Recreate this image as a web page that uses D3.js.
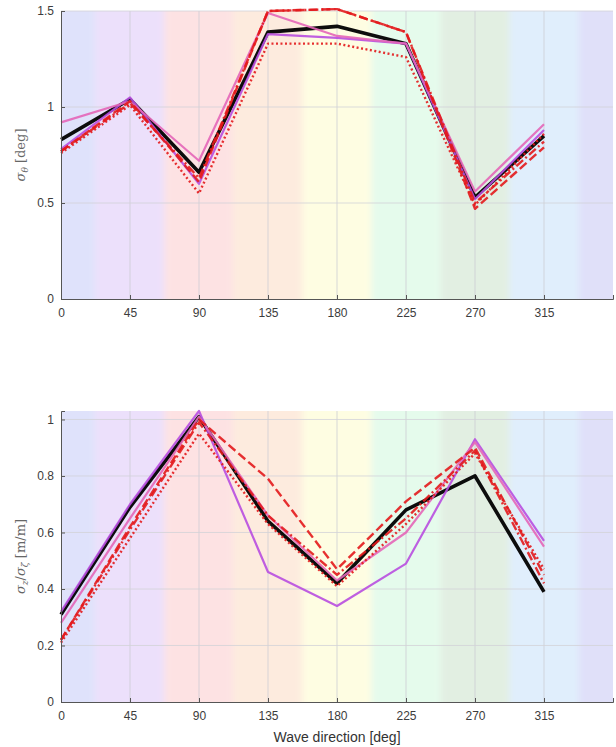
<!DOCTYPE html>
<html>
<head>
<meta charset="utf-8">
<script src="https://d3js.org/d3.v7.min.js"></script>
<style>
  body { margin: 0; background: #fff; }
  svg { display: block; }
</style>
</head>
<body>
<div id="chart"></div>
<script>
// wave directions [deg]
const directions = [0, 45, 90, 135, 180, 225, 270, 315];
const xTicks = [0, 45, 90, 135, 180, 225, 270, 315];

// sector shading (centred on each direction)
const sectorEdges = [0, 22.5, 67.5, 112.5, 157.5, 202.5, 247.5, 292.5, 337.5, 360];
const sectorColors = ["#dfe2fb", "#ece0fb", "#fde2e3", "#fdebde", "#fefde2",
                      "#e5fbec", "#e2efe2", "#e0eefc", "#e0e0f9"];

// sigma_theta [deg]
const thetaBlack   = [0.83, 1.04, 0.66, 1.39, 1.42, 1.33, 0.53, 0.85];
const thetaPurple  = [0.78, 1.05, 0.60, 1.38, 1.36, 1.33, 0.52, 0.88];
const thetaPink    = [0.92, 1.03, 0.72, 1.49, 1.37, 1.33, 0.56, 0.91];
const thetaDashed  = [0.77, 1.03, 0.61, 1.50, 1.51, 1.39, 0.47, 0.79];
const thetaDashDot = [0.77, 1.02, 0.63, 1.50, 1.51, 1.39, 0.50, 0.82];
const thetaDotted  = [0.76, 1.01, 0.55, 1.33, 1.33, 1.26, 0.49, 0.86];
const thetaTicks = [0, 0.5, 1, 1.5];

// sigma_z / sigma_zeta [m/m]
const heaveBlack   = [0.31, 0.69, 1.01, 0.64, 0.42, 0.68, 0.80, 0.39];
const heavePurple  = [0.32, 0.70, 1.03, 0.46, 0.34, 0.49, 0.93, 0.57];
const heavePink    = [0.28, 0.65, 1.01, 0.66, 0.43, 0.60, 0.92, 0.55];
const heaveDashed  = [0.22, 0.62, 1.00, 0.79, 0.47, 0.71, 0.90, 0.45];
const heaveDashDot = [0.22, 0.61, 0.99, 0.66, 0.45, 0.65, 0.89, 0.42];
const heaveDotted  = [0.21, 0.58, 0.95, 0.63, 0.41, 0.63, 0.88, 0.47];
const heaveTicks = [0, 0.2, 0.4, 0.6, 0.8, 1];

const styles = [
  {color: "#000000", width: 3.6, dash: null},
  {color: "#b84ee0", width: 2.2, dash: null},
  {color: "#e466b8", width: 2.2, dash: null},
  {color: "#e3191c", width: 2.4, dash: "9,4"},
  {color: "#e3191c", width: 2.4, dash: "9,3,2,3"},
  {color: "#e3191c", width: 2.4, dash: "2,2.5"}
];

const W = 616, H = 747;
const svg = d3.select("#chart").append("svg")
  .attr("width", W).attr("height", H);
const defs = svg.append("defs");
defs.append("filter").attr("id", "soft")
  .attr("x", "-5%").attr("y", "-5%").attr("width", "110%").attr("height", "110%")
  .append("feGaussianBlur").attr("stdDeviation", "3 0");

let panelId = 0;
function panel(opts) {
  const id = panelId++;
  const x = d3.scaleLinear().domain([0, 360]).range([61, 613]);
  const y = d3.scaleLinear().domain(opts.yDomain).range([opts.bottom, opts.top]);
  const g = svg.append("g");

  defs.append("clipPath").attr("id", "clip" + id)
    .append("rect")
    .attr("x", x(0)).attr("y", opts.top)
    .attr("width", x(360) - x(0)).attr("height", opts.bottom - opts.top);

  // sector shading, soft edges
  g.append("g")
    .attr("clip-path", `url(#clip${id})`)
    .append("g")
    .attr("filter", "url(#soft)")
    .selectAll("rect")
    .data(sectorColors)
    .join("rect")
    .attr("x", (d, i) => x(sectorEdges[i]) - (i === 0 ? 10 : 0))
    .attr("width", (d, i) => x(sectorEdges[i + 1]) - x(sectorEdges[i]) + (i === 0 || i === sectorColors.length - 1 ? 10 : 0))
    .attr("y", opts.top)
    .attr("height", opts.bottom - opts.top)
    .attr("fill", d => d);

  // grid
  g.selectAll("line.vgrid")
    .data(xTicks.slice(1))
    .join("line")
    .attr("x1", d => x(d)).attr("x2", d => x(d))
    .attr("y1", opts.top).attr("y2", opts.bottom)
    .attr("stroke", "#cdcdd4").attr("stroke-width", 0.8);
  g.selectAll("line.hgrid")
    .data(opts.yTicks.slice(1))
    .join("line")
    .attr("x1", x(0)).attr("x2", x(360))
    .attr("y1", d => y(d)).attr("y2", d => y(d))
    .attr("stroke", "#d2d2d8").attr("stroke-width", 0.8);

  // series
  const line = d3.line()
    .x((d, i) => x(directions[i]))
    .y(d => y(d));
  opts.series.forEach((s, k) => {
    const st = styles[k];
    g.append("path")
      .datum(s)
      .attr("fill", "none")
      .attr("stroke", st.color)
      .attr("stroke-width", st.width)
      .attr("stroke-linejoin", "round")
      .attr("stroke-dasharray", st.dash)
      .attr("opacity", k === 0 ? 0.95 : 0.9)
      .attr("d", line);
  });

  // axes
  const xAxis = g.append("g")
    .attr("transform", `translate(0,${opts.bottom})`)
    .call(d3.axisBottom(x).tickValues(xTicks).tickSize(-4).tickPadding(9).tickFormat(d3.format("d")));
  const yAxis = g.append("g")
    .attr("transform", `translate(${x(0)},0)`)
    .call(d3.axisLeft(y).tickValues(opts.yTicks).tickSize(-4).tickPadding(7).tickFormat(d => String(d)));
  [xAxis, yAxis].forEach(a => {
    a.select(".domain").attr("stroke", "#555").attr("stroke-width", 1);
    a.selectAll(".tick line").attr("stroke", "#555");
    a.selectAll("text")
      .attr("fill", "#3c3c3c")
      .style("font-family", "Liberation Sans, Arial, sans-serif")
      .style("font-size", "12px");
  });

  // y label (serif, latex-like)
  const lab = g.append("text")
    .attr("transform", `translate(25,${(opts.top + opts.bottom) / 2}) rotate(-90)`)
    .attr("text-anchor", "middle")
    .attr("fill", "#666")
    .style("font-family", "DejaVu Serif, Liberation Serif, serif")
    .style("font-size", "13px");
  opts.label(lab);
}

panel({
  top: 11, bottom: 299, yDomain: [0, 1.5], yTicks: thetaTicks,
  series: [thetaBlack, thetaPurple, thetaPink, thetaDashed, thetaDashDot, thetaDotted],
  label: t => {
    t.append("tspan").text("σ").style("font-style", "italic");
    t.append("tspan").text("θ").style("font-style", "italic").attr("dy", 3).style("font-size", "9px");
    t.append("tspan").text(" [deg]").attr("dy", -3);
  }
});

panel({
  top: 411, bottom: 702, yDomain: [0, 1.03], yTicks: heaveTicks,
  series: [heaveBlack, heavePurple, heavePink, heaveDashed, heaveDashDot, heaveDotted],
  label: t => {
    t.append("tspan").text("σ").style("font-style", "italic");
    t.append("tspan").text("z").style("font-style", "italic").attr("dy", 3).style("font-size", "9px");
    t.append("tspan").text("/").attr("dy", -3);
    t.append("tspan").text("σ").style("font-style", "italic");
    t.append("tspan").text("ζ").style("font-style", "italic").attr("dy", 3).style("font-size", "9px");
    t.append("tspan").text(" [m/m]").attr("dy", -3);
  }
});

svg.append("text")
  .attr("x", 337).attr("y", 742)
  .attr("text-anchor", "middle")
  .attr("fill", "#333")
  .style("font-family", "Liberation Sans, Arial, sans-serif")
  .style("font-size", "14px")
  .text("Wave direction [deg]");
</script>
</body>
</html>
